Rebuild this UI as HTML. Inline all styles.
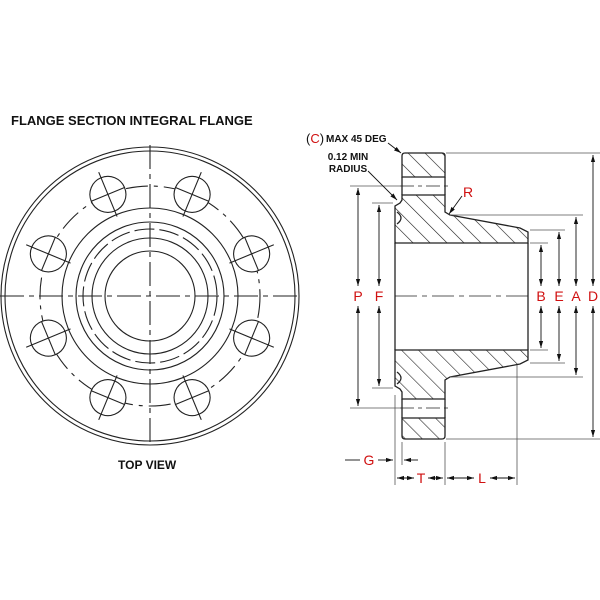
<!DOCTYPE html>
<html><head><style>body{margin:0;background:#fff}svg{display:block}</style></head><body>
<svg width="600" height="600" viewBox="0 0 600 600" xmlns="http://www.w3.org/2000/svg" font-family="Liberation Sans, sans-serif">
<defs>
<pattern id="h" patternUnits="userSpaceOnUse" width="12" height="12" patternTransform="rotate(-45)">
<line x1="0" y1="0" x2="0" y2="12" stroke="#222" stroke-width="1.2"/>
</pattern>
<marker id="ar" viewBox="0 0 10 10" refX="10" refY="5" markerWidth="8" markerHeight="8" orient="auto-start-reverse"><path d="M0,2 L10,5 L0,8 z" fill="#111"/></marker>
<g id="hole">
<circle cx="150" cy="186" r="18" fill="#fff"/>
<line x1="150" y1="162" x2="150" y2="210"/>
<line x1="132" y1="186" x2="168" y2="186"/>
</g>
</defs>
<text x="11" y="125" font-size="13" font-weight="bold" fill="#111">FLANGE SECTION INTEGRAL FLANGE</text>
<text x="118" y="469" font-size="12" font-weight="bold" fill="#111">TOP VIEW</text>
<g fill="none" stroke="#222" stroke-width="1.1">
<circle cx="150" cy="296" r="149"/>
<circle cx="150" cy="296" r="145"/>
<circle cx="150" cy="296" r="110" stroke-dasharray="22,6,4,6"/>
<circle cx="150" cy="296" r="88"/>
<circle cx="150" cy="296" r="74"/>
<circle cx="150" cy="296" r="67" stroke-dasharray="20,5"/>
<circle cx="150" cy="296" r="58"/>
<circle cx="150" cy="296" r="45"/>
<line x1="0" y1="296" x2="300" y2="296" stroke-dasharray="24,5,5,5"/>
<line x1="150" y1="145" x2="150" y2="447" stroke-dasharray="24,5,5,5"/>
<use href="#hole" transform="rotate(-22.5 150 296)"/>
<use href="#hole" transform="rotate(22.5 150 296)"/>
<use href="#hole" transform="rotate(67.5 150 296)"/>
<use href="#hole" transform="rotate(112.5 150 296)"/>
<use href="#hole" transform="rotate(157.5 150 296)"/>
<use href="#hole" transform="rotate(202.5 150 296)"/>
<use href="#hole" transform="rotate(247.5 150 296)"/>
<use href="#hole" transform="rotate(292.5 150 296)"/>
</g>
<g stroke="#222" stroke-width="1.3" fill="url(#h)">
<path d="M405,153 H442 Q445,153 445,156 V177 H402 V156 Q402,153 405,153 Z"/>
<path d="M402,195 H445 V212 L450,215 L520,228 L528,232 V243 H395 V206 L400,203 L402,200 Z"/>
<path d="M405,439 H442 Q445,439 445,436 V418 H402 V436 Q402,439 405,439 Z"/>
<path d="M402,399 H445 V380 L450,377 L520,364 L528,360 V350 H395 V386 L400,389 L402,392 Z"/>
</g>
<g stroke="#222" stroke-width="1.3" fill="none">
<line x1="402" y1="177" x2="402" y2="195"/><line x1="445" y1="177" x2="445" y2="195"/>
<line x1="402" y1="399" x2="402" y2="418"/><line x1="445" y1="399" x2="445" y2="418"/>
<line x1="395" y1="243" x2="395" y2="350"/>
<line x1="528" y1="243" x2="528" y2="350"/>
<path d="M397,212 Q405,218 397,224" /><path d="M397,372 Q405,378 397,384"/>
</g>
<g stroke="#222" stroke-width="0.8" fill="none">
<line x1="400" y1="186" x2="448" y2="186" stroke-dasharray="14,4,4,4"/>
<line x1="400" y1="408" x2="448" y2="408" stroke-dasharray="14,4,4,4"/>
<line x1="395" y1="296" x2="528" y2="296" stroke-dasharray="22,5,5,5"/>
</g>
<g stroke="#555" stroke-width="0.8">
<line x1="446" y1="153" x2="600" y2="153"/><line x1="446" y1="439" x2="600" y2="439"/>
<line x1="450" y1="215" x2="583" y2="215"/><line x1="450" y1="377" x2="583" y2="377"/>
<line x1="530" y1="230" x2="565" y2="230"/><line x1="530" y1="363" x2="565" y2="363"/>
<line x1="530" y1="243" x2="548" y2="243"/><line x1="530" y1="350" x2="548" y2="350"/>
<line x1="350" y1="186" x2="400" y2="186"/><line x1="350" y1="408" x2="400" y2="408"/>
<line x1="372" y1="203" x2="393" y2="203"/><line x1="372" y1="388" x2="393" y2="388"/>
<line x1="395" y1="395" x2="395" y2="485"/><line x1="402" y1="442" x2="402" y2="465"/>
<line x1="445" y1="442" x2="445" y2="485"/><line x1="517" y1="365" x2="517" y2="485"/>
</g>
<g stroke="#111" stroke-width="0.9" marker-start="url(#ar)" marker-end="url(#ar)">
<line x1="593" y1="155" x2="593" y2="286"/><line x1="593" y1="306" x2="593" y2="437"/>
<line x1="576" y1="217" x2="576" y2="286"/><line x1="576" y1="306" x2="576" y2="375"/>
<line x1="559" y1="232" x2="559" y2="286"/><line x1="559" y1="306" x2="559" y2="361"/>
<line x1="541" y1="245" x2="541" y2="286"/><line x1="541" y1="306" x2="541" y2="348"/>
<line x1="358" y1="188" x2="358" y2="286"/><line x1="358" y1="306" x2="358" y2="406"/>
<line x1="379" y1="205" x2="379" y2="286"/><line x1="379" y1="306" x2="379" y2="386"/>
<line x1="397" y1="478" x2="414" y2="478"/><line x1="428" y1="478" x2="443" y2="478"/>
<line x1="447" y1="478" x2="474" y2="478"/><line x1="490" y1="478" x2="515" y2="478"/>
</g>
<g stroke="#111" stroke-width="0.9">
<line x1="345" y1="460" x2="360" y2="460"/>
<line x1="378" y1="460" x2="393" y2="460" marker-end="url(#ar)"/>
<line x1="418" y1="460" x2="404" y2="460" marker-end="url(#ar)"/>
<line x1="388" y1="143" x2="401" y2="153" marker-end="url(#ar)"/>
<line x1="368" y1="171" x2="397" y2="200" marker-end="url(#ar)"/>
<line x1="462" y1="196" x2="449" y2="214" marker-end="url(#ar)"/>
</g>
<g fill="#d01010" font-size="14" text-anchor="middle">
<text x="593" y="301">D</text><text x="576" y="301">A</text><text x="559" y="301">E</text><text x="541" y="301">B</text>
<text x="358" y="301">P</text><text x="379" y="301">F</text>
<text x="369" y="465">G</text><text x="421" y="483">T</text><text x="482" y="483">L</text>
<text x="468" y="197">R</text>
</g>
<text x="306" y="143" font-size="13" fill="#111">(<tspan fill="#d01010">C</tspan>)</text>
<text x="326" y="142" font-size="10" font-weight="bold" fill="#111">MAX 45 DEG</text>
<text x="348" y="160" font-size="10" font-weight="bold" fill="#111" text-anchor="middle">0.12 MIN</text>
<text x="348" y="172" font-size="10" font-weight="bold" fill="#111" text-anchor="middle">RADIUS</text>
</svg>
</body></html>
